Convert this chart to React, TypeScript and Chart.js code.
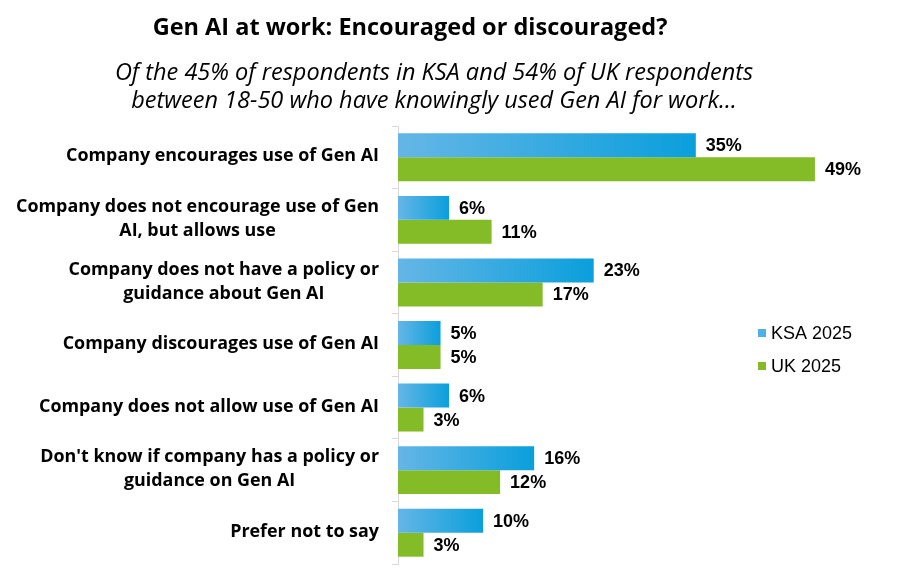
import React, { useEffect, useRef } from "react";
import { Chart, registerables } from "chart.js";

Chart.register(...registerables);

const TITLE = "Gen AI at work: Encouraged or discouraged?";
const SUBTITLE = [
  "Of the 45% of respondents in KSA and 54% of UK respondents",
  "between 18-50 who have knowingly used Gen AI for work…",
];
const CATEGORIES: string[][] = [
  ["Company encourages use of Gen AI"],
  ["Company does not encourage use of Gen", "AI, but allows use"],
  ["Company does not have a policy or", "guidance about Gen AI"],
  ["Company discourages use of Gen AI"],
  ["Company does not allow use of Gen AI"],
  ["Don't know if company has a policy or", "guidance on Gen AI"],
  ["Prefer not to say"],
];
const SERIES_NAMES = ["KSA 2025", "UK 2025"];
const KSA_2025 = [35, 6, 23, 5, 6, 16, 10];
const UK_2025 = [49, 11, 17, 5, 3, 12, 3];

const LABEL_FONT = "bold 17.9px 'Open Sans', 'Liberation Sans', sans-serif";

const textPlugin = {
  id: "customText",
  afterDraw(chart: any) {
    const ctx = chart.ctx as CanvasRenderingContext2D;
    const y = chart.scales.y;
    ctx.save();
    // Title
    ctx.fillStyle = "#000";
    ctx.textAlign = "center";
    ctx.textBaseline = "middle";
    ctx.font = "bold 23.5px 'Open Sans', 'Liberation Sans', sans-serif";
    ctx.fillText(TITLE, 410, 28);
    ctx.font = "italic 23.5px 'Open Sans', 'Liberation Sans', sans-serif";
    ctx.fillText(SUBTITLE[0], 434, 73);
    ctx.fillText(SUBTITLE[1], 434, 101);

    // Category labels
    ctx.font = LABEL_FONT;
    CATEGORIES.forEach((lines, i) => {
      const cy = y.getPixelForValue(i);
      const maxW = Math.max(...lines.map((l) => ctx.measureText(l).width));
      const cx = 379 - maxW / 2;
      const lh = 24;
      const startY = cy - ((lines.length - 1) * lh) / 2 - 1;
      lines.forEach((l, j) => ctx.fillText(l, cx, startY + j * lh));
    });

    // Data labels
    ctx.textAlign = "left";
    ctx.font = "bold 18px 'Liberation Sans', Arial, sans-serif";
    chart.data.datasets.forEach((ds: any, di: number) => {
      const meta = chart.getDatasetMeta(di);
      meta.data.forEach((bar: any, i: number) => {
        ctx.fillText(ds.data[i] + "%", bar.x + 10, bar.y + 1);
      });
    });

    // Legend
    ctx.font = "18px 'Liberation Sans', Arial, sans-serif";
    const legendY = [333, 366];
    const colors = ["#4fb0e3", "#84bc27"];
    SERIES_NAMES.forEach((name, i) => {
      ctx.fillStyle = colors[i];
      ctx.fillRect(758, legendY[i] - 4, 8, 8);
      ctx.fillStyle = "#000";
      ctx.fillText(name, 771, legendY[i] + 1);
    });
    ctx.restore();
  },
};

function ksaGradient(c: any) {
  const chart = c.chart;
  const x = chart.scales?.x;
  const v = typeof c.raw === "number" ? c.raw : NaN;
  if (!x || !isFinite(v)) return "#3aa9e2";
  const x0 = x.getPixelForValue(0);
  const x1 = x.getPixelForValue(v);
  if (!isFinite(x0) || !isFinite(x1)) return "#3aa9e2";
  const g = chart.ctx.createLinearGradient(x0, 0, Math.max(x1, x0 + 1), 0);
  g.addColorStop(0, "#65b6e6");
  g.addColorStop(1, "#0a9fdc");
  return g;
}

export default function App() {
  const ref = useRef<HTMLCanvasElement>(null);
  useEffect(() => {
    document.body.style.margin = "0";
    const chart = new Chart(ref.current!, {
      type: "bar",
      data: {
        labels: CATEGORIES.map((l) => l.join(" ")),
        datasets: [
          {
            label: SERIES_NAMES[0],
            data: KSA_2025,
            backgroundColor: ksaGradient,
            categoryPercentage: 0.766,
            barPercentage: 1,
          },
          {
            label: SERIES_NAMES[1],
            data: UK_2025,
            backgroundColor: "#84bc27",
            categoryPercentage: 0.766,
            barPercentage: 1,
          },
        ],
      },
      options: {
        indexAxis: "y",
        responsive: false,
        animation: false,
        layout: { padding: { left: 392, right: 34, top: 126, bottom: 22 } },
        plugins: {
          legend: { display: false },
          title: { display: false },
          tooltip: { enabled: false },
        },
        scales: {
          x: { display: false, min: 0, max: 55 },
          y: {
            display: true,
            offset: true,
            ticks: { display: false },
            grid: {
              display: true,
              offset: true,
              drawOnChartArea: false,
              drawTicks: true,
              tickLength: 6,
              color: "#d9d9d9",
            },
            border: { display: true, color: "#d9d9d9", width: 1 },
          },
        },
      },
      plugins: [textPlugin],
    });
    return () => chart.destroy();
  }, []);
  return (
    <div style={{ width: 900, height: 586 }}>
      <canvas ref={ref} width={900} height={586} />
    </div>
  );
}
